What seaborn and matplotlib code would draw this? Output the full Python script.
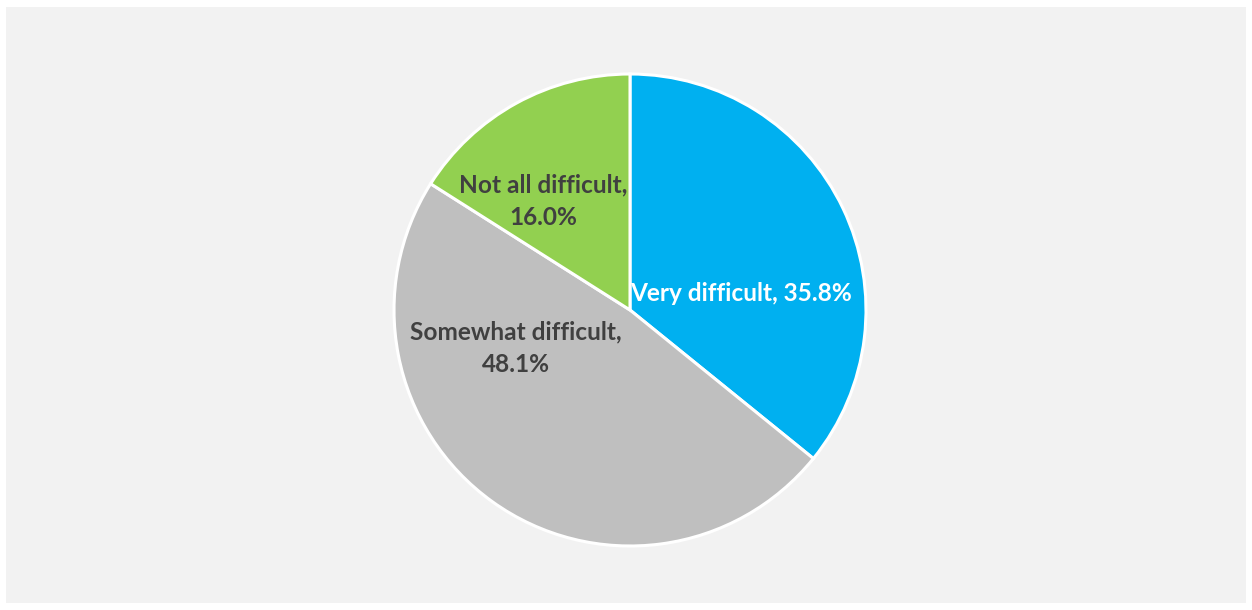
import matplotlib
matplotlib.use("Agg")
import matplotlib.pyplot as plt
import seaborn as sns
from matplotlib.patches import Rectangle

categories = ["Very difficult", "Somewhat difficult", "Not all difficult"]
shares = [35.8, 48.1, 16.0]
colors = ["#00b0f0", "#bfbfbf", "#92d050"]
label_colors = ["white", "#404040", "#404040"]
# label anchor points inside the pie (fraction of radius)
label_pos = [(0.47, 0.068), (-0.483, -0.16), (-0.369, 0.462)]
label_text = ["Very difficult, 35.8%", "Somewhat difficult,\n48.1%", "Not all difficult,\n16.0%"]

sns.set_style("white")
plt.rcParams["font.family"] = ["Lato", "DejaVu Sans"]

W, H = 1252, 610
fig = plt.figure(figsize=(W / 100, H / 100), dpi=100)
fig.patch.set_facecolor("white")

# grey chart area, behind everything
bg = Rectangle((6 / W, 7 / H), 1240 / W, 596 / H, transform=fig.transFigure,
               facecolor="#f2f2f2", edgecolor="none", zorder=-10)
fig.add_artist(bg)

cx, cy, r = 630, 310, 236
ax = fig.add_axes([(cx - r) / W, (H - cy - r) / H, 2 * r / W, 2 * r / H])
ax.set_facecolor("none")
ax.set_zorder(5)

ax.pie(shares, colors=colors, startangle=90, counterclock=False,
       radius=1.0, wedgeprops=dict(edgecolor="white", linewidth=2.2))
ax.set_xlim(-1.0, 1.0)
ax.set_ylim(-1.0, 1.0)
ax.set_aspect("equal")
ax.axis("off")

for (x, y), txt, c in zip(label_pos, label_text, label_colors):
    ax.text(x, y, txt, ha="center", va="center", color=c,
            fontsize=17.6, fontweight="bold", linespacing=1.5)

fig.savefig("out.png", dpi=100, facecolor=fig.get_facecolor())
